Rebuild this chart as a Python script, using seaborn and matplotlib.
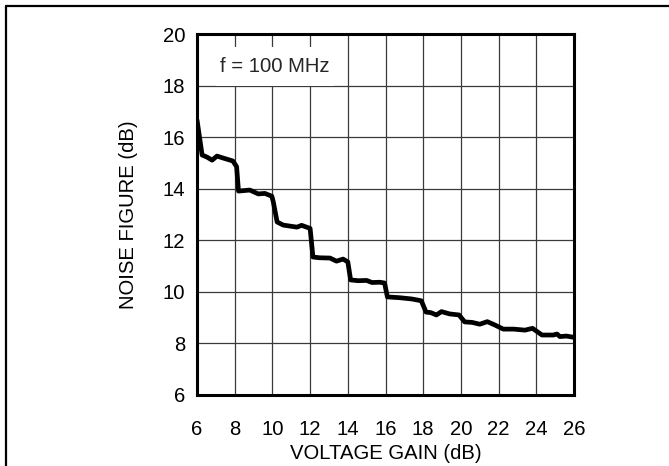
import matplotlib
matplotlib.use("Agg")
import matplotlib.pyplot as plt
from matplotlib.lines import Line2D
from matplotlib.patches import Rectangle
import seaborn as sns
import pandas as pd

# valores (f = 100 MHz)
gain_db = [6.0, 6.27, 6.53, 6.8, 7.06, 7.4, 7.9, 8.1, 8.2, 8.8, 9.25, 9.6, 9.97,
           10.05, 10.25, 10.57, 11.3, 11.55, 12.0, 12.15, 12.5, 13.05, 13.4, 13.75,
           14.0, 14.15, 14.55, 15.0, 15.28, 15.7, 15.95, 16.1, 16.75, 17.4, 17.9,
           18.15, 18.4, 18.7, 18.97, 19.4, 19.9, 20.2, 20.6, 21.0, 21.4, 21.8,
           22.25, 22.8, 23.4, 23.8, 24.3, 24.9, 25.1, 25.25, 25.6, 26.0]
noise_fig = [16.66, 15.3, 15.22, 15.1, 15.26, 15.18, 15.07, 14.85, 13.9, 13.94,
             13.79, 13.81, 13.7, 13.47, 12.7, 12.58, 12.5, 12.57, 12.45, 11.34,
             11.31, 11.3, 11.18, 11.26, 11.15, 10.45, 10.42, 10.43, 10.35, 10.36,
             10.33, 9.79, 9.76, 9.71, 9.64, 9.2, 9.18, 9.09, 9.22, 9.13, 9.09,
             8.82, 8.8, 8.73, 8.83, 8.7, 8.54, 8.54, 8.5, 8.57, 8.31, 8.31, 8.35,
             8.25, 8.27, 8.22]
x_ticks = [6, 8, 10, 12, 14, 16, 18, 20, 22, 24, 26]
y_ticks = [6, 8, 10, 12, 14, 16, 18, 20]

sns.set_style("white")
plt.rcParams['font.family'] = ['Liberation Sans', 'DejaVu Sans']

fig = plt.figure(figsize=(6.69, 4.66), dpi=100)
ax = fig.add_axes([0.2945, 0.1534, 0.5635, 0.7736])

df = pd.DataFrame({"gain": gain_db, "nf": noise_fig})
sns.lineplot(data=df, x="gain", y="nf", color="black", linewidth=3.4, ax=ax, zorder=3)

ax.set_xlim(6, 26)
ax.set_ylim(6, 20)
ax.set_xticks(x_ticks)
ax.set_yticks(y_ticks)
ax.set_axisbelow(True)
ax.grid(True, color="#3a3a3a", linewidth=0.9)
for s in ax.spines.values():
    s.set_visible(True)
    s.set_color("black")
    s.set_linewidth(2.2)
ax.tick_params(axis="x", length=0, pad=18.5, labelsize=14.6, colors="black")
ax.tick_params(axis="y", length=0, pad=8.6, labelsize=14.6, colors="black")

ax.set_xlabel("VOLTAGE GAIN (dB)", fontsize=14.6, color="black")
ax.set_ylabel("NOISE FIGURE (dB)", fontsize=14.6, color="black")
ax.xaxis.set_label_coords(0.5, -0.137)
ax.yaxis.set_label_coords(-0.157, 0.5)

# caja blanca del rotulo
ax.add_patch(Rectangle((7.0, 17.98), 6.27, 1.52, facecolor="white",
                       edgecolor="none", zorder=2))
ax.text(10.15, 18.72, "f = 100 MHz", fontsize=14.6, ha="center", va="center",
        zorder=4)

# marco de la pagina
fig.add_artist(Line2D([6 / 669, 1.0], [1 - 6 / 466, 1 - 6 / 466],
                      color="black", linewidth=1.6))
fig.add_artist(Line2D([6 / 669, 6 / 669], [0.0, 1 - 6 / 466],
                      color="black", linewidth=1.6))

plt.savefig("out.png", dpi=100)
